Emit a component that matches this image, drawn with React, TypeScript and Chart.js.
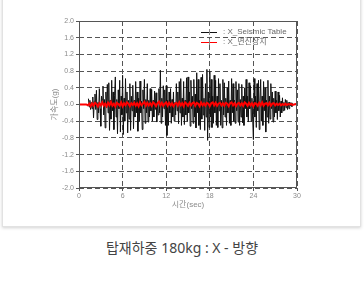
import React, { useEffect, useRef } from "react";
import { Chart, registerables } from "chart.js";

Chart.register(...registerables);

const SEISMIC_START = 1.3;
const SEISMIC_STEP = 0.1;
const seismicTable: number[] = [
  0.14, -0.06, 0.1, -0.12, 0.05, -0.1, 0.18,
  -0.32, 0.08, 0.25, -0.12, 0.34, -0.36, 0.05, -0.2, 0.38, -0.1,
  -0.52, 0.2, 0.1, 0.44, -0.25, 0.12, -0.56, 0.3, -0.08, 0.48,
  -0.2, 0.52, -0.62, 0.1, -0.35, 0.58, -0.15, 0.3, -0.6, 0.22,
  0.66, -0.3, 0.12, -0.7, 0.35, -0.1, 0.58, -0.66, 0.2, -0.25,
  0.7, -0.72, 0.15, -0.4, 0.62, -0.2, 0.3, -0.68, 0.1, -0.35,
  0.5, -0.62, 0.2, -0.15, 0.46, -0.58, 0.1, -0.3, 0.55, -0.2,
  0.3, -0.64, 0.15, -0.4, 0.56, -0.2, 0.08, -0.6, 0.35, -0.1,
  0.6, -0.45, 0.12, -0.2, 0.5, -0.42, 0.1, -0.3, 0.38, -0.15,
  0.36, -0.4, 0.1, -0.3, 0.32, -0.12, 0.28, -0.42, 0.05, -0.25,
  0.38, -0.2, 0.82, -0.45, 0.15, -0.3, 0.45, -0.1, 0.35, -0.5,
  0.45, -0.74, 0.1, -0.5, 0.3, -0.2, 0.38, -0.45, 0.12, -0.3,
  0.3, -0.4, 0.05, -0.25, 0.5, -0.15, 0.3, -0.46, 0.55, -0.2,
  0.62, -0.5, 0.15, -0.3, 0.55, -0.48, 0.1, -0.25, 0.64, -0.4,
  0.66, -0.2, 0.3, -0.52, 0.58, -0.1, 0.2, -0.45, 0.6, -0.3,
  0.25, -0.56, 0.76, -0.2, 0.6, -0.5, 0.1, -0.6, 0.65, -0.35,
  0.72, -0.25, 0.15, -0.62, 0.5, -0.3, 0.84, -0.86, 0.3, -0.55,
  0.8, -0.3, 0.6, -0.55, 0.2, -0.45, 0.7, -0.2, 0.58, -0.5,
  0.2, -0.55, 0.62, -0.15, 0.5, -0.5, 0.1, -0.56, 0.6, -0.25,
  0.52, -0.3, 0.15, -0.5, 0.4, -0.2, 0.56, -0.45, 0.1, -0.5,
  0.62, -0.2, 0.5, -0.4, 0.1, -0.45, 0.55, -0.15, 0.35, -0.42,
  0.5, -0.5, 0.12, -0.3, 0.48, -0.44, 0.2, -0.5, 0.4, -0.1,
  0.6, -0.3, 0.2, -0.42, 0.52, -0.1, 0.45, -0.4, 0.15, -0.35,
  -0.84, 0.62, -0.3, 0.2, -0.55, 0.5, -0.15, 0.58, -0.6, 0.1,
  0.6, -0.4, 0.2, -0.5, 0.55, -0.15, 0.4, -0.66, 0.1, -0.3,
  0.58, -0.45, 0.2, -0.35, 0.5, -0.1, 0.3, -0.42, 0.15, -0.3,
  0.32, -0.2, 0.1, -0.36, 0.3, -0.15, 0.22, -0.3, 0.08, -0.2,
  0.16, -0.15, 0.05, -0.14, 0.12, -0.08, 0.1, -0.12, 0.05, -0.1,
  0.06, -0.03, 0.04, -0.05, 0.02,
];

const ISOLATOR_START = 0;
const ISOLATOR_STEP = 0.2;
const isolator: number[] = [
  0, 0, 0, 0, 0, 0, -0.02, 0.02, -0.04, 0.03,
  -0.03, 0.04, 0.01, -0.05, 0.03, -0.02, 0.05, -0.03, 0.02, -0.04,
  0.04, -0.02, 0.06, -0.03, 0.02, -0.05, 0.04, 0.01, -0.03, 0.05,
  -0.04, 0.03, -0.02, 0.05, 0.02, -0.04, 0.03, -0.01, 0.04, -0.03,
  0.03, -0.04, 0.05, -0.02, 0.02, 0.06, -0.03, 0.04, -0.02, 0.03,
  -0.03, 0.05, 0.02, -0.04, 0.03, 0.07, -0.02, 0.04, -0.03, 0.02,
  0.05, -0.03, 0.04, -0.02, 0.03, -0.04, 0.02, 0.04, -0.03, 0.05,
  -0.02, 0.03, -0.04, 0.05, 0.02, -0.03, 0.04, -0.02, 0.03, 0.05,
  -0.03, 0.04, 0.02, -0.04, 0.05, -0.02, 0.03, -0.03, 0.04, 0.02,
  -0.04, 0.03, 0.05, -0.02, 0.04, -0.03, 0.02, 0.04, -0.02, 0.03,
  -0.03, 0.04, 0.02, -0.04, 0.03, 0.05, -0.02, 0.03, -0.04, 0.02,
  0.04, -0.02, 0.03, -0.03, 0.05, 0.02, -0.03, 0.04, -0.02, 0.03,
  -0.04, 0.03, 0.02, -0.03, 0.04, -0.02, 0.05, -0.03, 0.02, 0.03,
  -0.02, 0.04, -0.03, 0.02, 0.03, -0.02, 0.02, -0.01, 0.02, -0.02,
  0.01, -0.01, 0.02, -0.01, 0.01, 0, 0.01, -0.01, 0, 0.01,
  0,
];

const seriesLabels = [": X_Seismic Table", ": X_면진장치"];
const xTicks = [0, 6, 12, 18, 24, 30];
const yRange = [-2.0, 2.0];
const yStep = 0.4;
const xTitle = "시간(sec)";
const yTitle = "가속도(g)";
const caption = "탑재하중 180kg : X - 방향";

const FONT = "'Liberation Sans', 'Noto Sans CJK KR', sans-serif";
const GRAY = "#8a8a8a";

const framePlugin = {
  id: "frameAndLegend",
  afterDraw(chart: any) {
    const { ctx, chartArea } = chart;
    ctx.save();
    ctx.strokeStyle = "#555";
    ctx.lineWidth = 1;
    ctx.setLineDash([]);
    ctx.strokeRect(
      Math.round(chartArea.left) + 0.5,
      Math.round(chartArea.top) + 0.5,
      Math.round(chartArea.right - chartArea.left) - 1,
      Math.round(chartArea.bottom - chartArea.top) - 1
    );
    // legend
    const lx = chartArea.right - 96;
    let ly = chartArea.top + 11;
    ctx.font = `8px ${FONT}`;
    ctx.textBaseline = "middle";
    chart.data.datasets.forEach((ds: any) => {
      ctx.strokeStyle = ds.borderColor;
      ctx.lineWidth = 1;
      ctx.beginPath();
      ctx.moveTo(lx, Math.round(ly) + 0.5);
      ctx.lineTo(lx + 16, Math.round(ly) + 0.5);
      ctx.stroke();
      ctx.strokeStyle = "#888";
      ctx.beginPath();
      ctx.moveTo(lx + 8.5, ly - 3);
      ctx.lineTo(lx + 8.5, ly + 3);
      ctx.stroke();
      ctx.fillStyle = "#666";
      ctx.fillText(ds.label, lx + 22, ly);
      ly += 10;
    });
    ctx.restore();
  },
};

export default function App() {
  const ref = useRef<HTMLCanvasElement | null>(null);
  useEffect(() => {
    if (!ref.current) return;
    const chart = new Chart(ref.current, {
      type: "line",
      data: {
        datasets: [
          {
            label: seriesLabels[0],
            data: seismicTable.map((v, i) => ({ x: SEISMIC_START + i * SEISMIC_STEP, y: v })),
            borderColor: "#111",
            borderWidth: 1,
            pointRadius: 0,
            tension: 0,
            order: 2,
          },
          {
            label: seriesLabels[1],
            data: isolator.map((v, i) => ({ x: ISOLATOR_START + i * ISOLATOR_STEP, y: v })),
            borderColor: "#ff0000",
            borderWidth: 2,
            pointRadius: 0,
            tension: 0,
            order: 1,
          },
        ],
      },
      options: {
        animation: false,
        responsive: false,
        layout: { padding: { left: 48, right: 67, top: 21, bottom: 14 } },
        plugins: { legend: { display: false }, tooltip: { enabled: false } },
        scales: {
          x: {
            type: "linear",
            min: xTicks[0],
            max: xTicks[xTicks.length - 1],
            afterBuildTicks: (s: any) => {
              s.ticks = xTicks.map((v) => ({ value: v }));
            },
            afterFit: (s: any) => {
              s.height = 24;
            },
            grid: { color: "#555", tickLength: 3, lineWidth: 1 },
            border: { display: false, dash: [5, 3] },
            ticks: { color: GRAY, font: { size: 7, family: FONT }, padding: 1, maxRotation: 0 },
            title: { display: true, text: xTitle, color: GRAY, font: { size: 8, family: FONT }, padding: 2 },
          },
          y: {
            min: yRange[0],
            max: yRange[1],
            afterFit: (s: any) => {
              s.width = 31;
            },
            ticks: {
              stepSize: yStep,
              color: GRAY,
              font: { size: 7, family: FONT },
              padding: 2,
              callback: (v: any) => Number(v).toFixed(1),
            },
            grid: { color: "#555", tickLength: 3, lineWidth: 1 },
            border: { display: false, dash: [5, 3] },
            title: { display: true, text: yTitle, color: GRAY, font: { size: 8, family: FONT }, padding: 2 },
          },
        },
      } as any,
      plugins: [framePlugin],
    });
    return () => chart.destroy();
  }, []);

  return (
    <div style={{ position: "absolute", left: 0, top: 0, width: 364, height: 282, background: "#fff", overflow: "hidden" }}>
      <div
        style={{
          position: "absolute",
          left: 2,
          top: -4,
          width: 357,
          height: 229,
          border: "1px solid #e2e2e2",
          boxShadow: "0 1px 3px rgba(0,0,0,0.18)",
          background: "#fff",
        }}
      />
      <canvas ref={ref} width={364} height={226} style={{ position: "absolute", left: 0, top: 0, width: 364, height: 226 }} />
      <div
        style={{
          position: "absolute",
          left: 0,
          top: 238,
          width: 364,
          textAlign: "center",
          fontFamily: "'Noto Sans', 'Noto Sans CJK KR', sans-serif",
          fontSize: 14,
          color: "#444",
          lineHeight: "20px",
        }}
      >
        {caption}
      </div>
    </div>
  );
}
